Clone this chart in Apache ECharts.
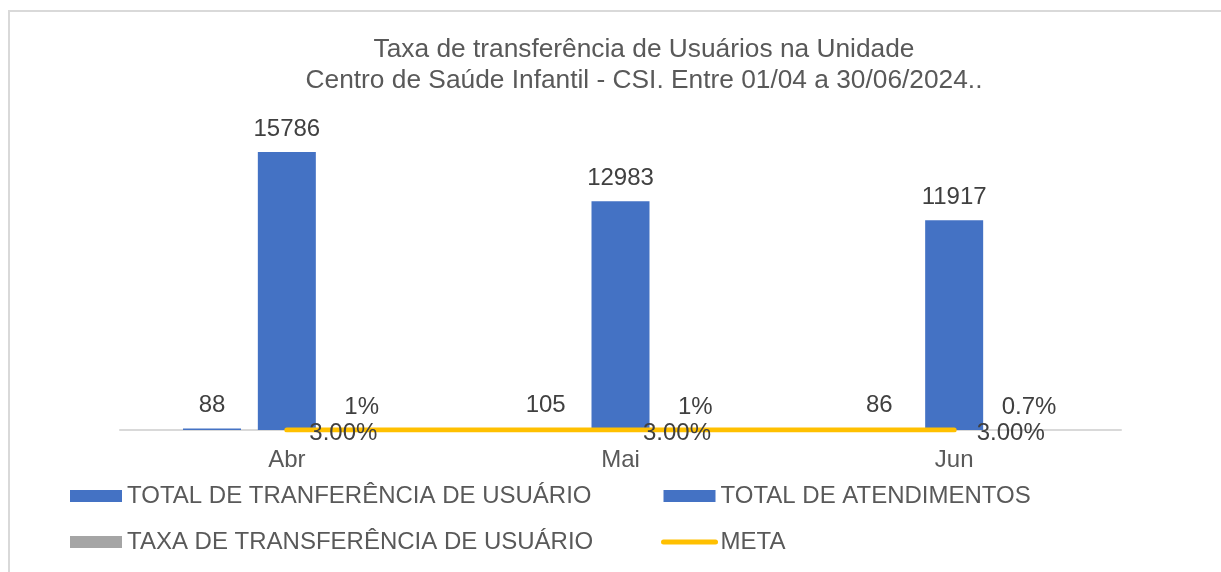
<!DOCTYPE html>
<html>
<head>
<meta charset="utf-8">
<script src="https://cdn.jsdelivr.net/npm/echarts@6/dist/echarts.min.js"></script>
<style>
  html, body { margin: 0; padding: 0; background: #fff; overflow: hidden; }
  #main { width: 1221px; height: 572px; }
</style>
</head>
<body>
<div id="main"></div>
<script>
// dados
var meses = ['Abr', 'Mai', 'Jun'];
var totalTransferencia = [88, 105, 86];
var totalAtendimentos = [15786, 12983, 11917];
var taxaTransferencia = [0.01, 0.01, 0.007];
var meta = [0.03, 0.03, 0.03];

var cinza = '#595959';
var fonte = 'Liberation Sans, Arial, sans-serif';

var myChart = echarts.init(document.getElementById('main'));

var rotulo = {
    show: true,
    position: 'top',
    distance: 11,
    color: '#404040',
    fontSize: 24,
    fontFamily: fonte
};

var option = {
    animation: false,
    title: {
        text: 'Taxa de transferência de Usuários na Unidade\nCentro de Saúde Infantil - CSI. Entre 01/04 a 30/06/2024..',
        left: 639,
        textAlign: 'center',
        top: 29,
        textStyle: {
            color: cinza,
            fontSize: 26.3,
            fontWeight: 'normal',
            fontFamily: fonte,
            lineHeight: 31
        }
    },
    graphic: [{
        type: 'rect',
        shape: { x: 9, y: 11, width: 1300, height: 700 },
        style: { fill: 'none', stroke: '#D9D9D9', lineWidth: 2 },
        silent: true
    }],
    legend: [{
        orient: 'vertical',
        left: 65,
        top: 479,
        itemGap: 22,
        itemWidth: 52,
        itemHeight: 12,
        textStyle: { color: cinza, fontSize: 24, fontFamily: fonte },
        data: [
            { name: 'TOTAL DE TRANFERÊNCIA DE USUÁRIO', icon: 'rect' },
            { name: 'TAXA DE TRANSFERÊNCIA DE USUÁRIO', icon: 'rect' }
        ]
    }, {
        orient: 'vertical',
        left: 656,
        top: 479,
        itemGap: 22,
        itemWidth: 52,
        itemHeight: 12,
        textStyle: { color: cinza, fontSize: 24, fontFamily: fonte },
        data: [
            { name: 'TOTAL DE ATENDIMENTOS', icon: 'rect' },
            { name: 'META', itemStyle: { opacity: 0 }, lineStyle: { width: 5, cap: 'round' } }
        ]
    }],
    grid: {
        left: 120,
        right: 100,
        top: 113,
        bottom: 142
    },
    xAxis: {
        type: 'category',
        data: meses,
        axisLine: { lineStyle: { color: '#D9D9D9', width: 2 } },
        axisTick: { show: false },
        axisLabel: {
            color: cinza,
            fontSize: 24,
            fontFamily: fonte,
            margin: 18
        }
    },
    yAxis: {
        type: 'value',
        min: 0,
        max: 18000,
        show: false,
        splitLine: { show: false }
    },
    series: [{
        name: 'TOTAL DE TRANFERÊNCIA DE USUÁRIO',
        type: 'bar',
        data: totalTransferencia,
        barWidth: 58,
        barGap: '29%',
        itemStyle: { color: '#4472C4' },
        label: rotulo
    }, {
        name: 'TOTAL DE ATENDIMENTOS',
        type: 'bar',
        data: totalAtendimentos,
        barWidth: 58,
        barGap: '29%',
        itemStyle: { color: '#4472C4' },
        label: rotulo
    }, {
        name: 'TAXA DE TRANSFERÊNCIA DE USUÁRIO',
        type: 'bar',
        data: taxaTransferencia,
        barWidth: 58,
        barGap: '29%',
        itemStyle: { color: '#A5A5A5' },
        label: Object.assign({}, rotulo, {
            formatter: function (p) { return +(p.value * 100).toFixed(1) + '%'; }
        })
    }, {
        name: 'META',
        type: 'line',
        data: meta,
        symbol: 'circle',
        symbolSize: 1,
        z: 5,
        itemStyle: { color: '#FFC000' },
        lineStyle: { color: '#FFC000', width: 5, cap: 'round' },
        label: {
            show: true,
            position: 'right',
            distance: 22,
            offset: [0, 3],
            color: '#404040',
            fontSize: 24,
            fontFamily: fonte,
            formatter: function (p) { return (p.value * 100).toFixed(2) + '%'; }
        }
    }]
};

myChart.setOption(option);
</script>
</body>
</html>
